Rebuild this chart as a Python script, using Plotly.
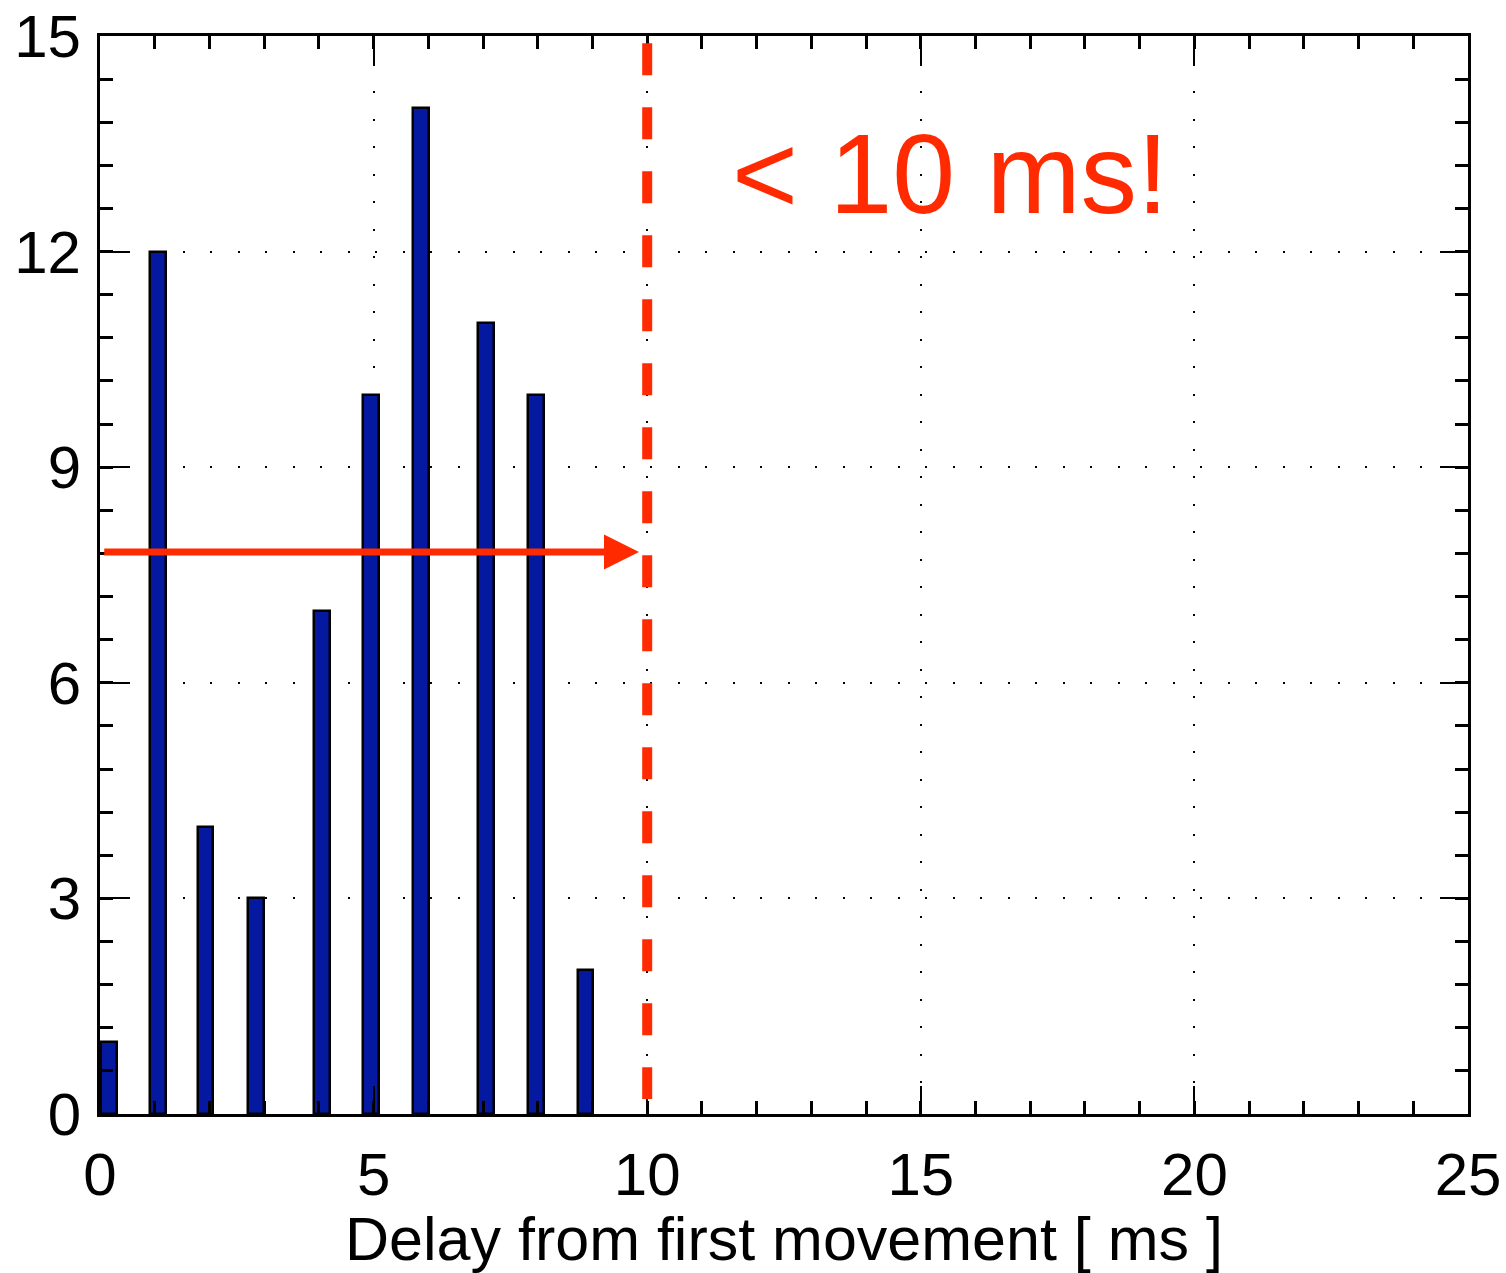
import plotly.graph_objects as go

# Histogram of delays (bin centres in ms) and counts per bin
delay_ms = [0.16, 1.06, 1.93, 2.85, 4.06, 4.95, 5.87, 7.05, 7.97, 8.87]
counts = [1, 12, 4, 3, 7, 10, 14, 11, 10, 2]

x_ticks = [0, 5, 10, 15, 20, 25]
y_ticks = [0, 3, 6, 9, 12, 15]

THRESHOLD_MS = 10
ARROW_LEVEL = 7.82
ARROW_START = 0.05
ARROW_TIP = 9.85
LABEL_X = 15.55
LABEL_Y = 13.08

RED = "#ff2a00"
BLUE = "#0519a0"
FONT = "Liberation Sans, Arial, Helvetica, sans-serif"

fig = go.Figure()

fig.add_trace(go.Bar(
    x=delay_ms,
    y=counts,
    width=0.285,
    marker=dict(color=BLUE, line=dict(color="black", width=2.5)),
    showlegend=False,
))

# Threshold line
fig.add_shape(
    type="line", xref="x", yref="y",
    x0=THRESHOLD_MS, x1=THRESHOLD_MS, y0=14.9, y1=0.21,
    line=dict(color=RED, width=10, dash="32px,32px"),
    layer="above",
)

# Arrow towards the threshold
fig.add_annotation(
    x=ARROW_TIP, y=ARROW_LEVEL, ax=ARROW_START, ay=ARROW_LEVEL,
    xref="x", yref="y", axref="x", ayref="y",
    text="", showarrow=True,
    arrowhead=2, arrowsize=1.0, arrowwidth=7, arrowcolor=RED,
)

fig.add_annotation(
    x=LABEL_X, y=LABEL_Y, xref="x", yref="y",
    text="&lt; 10 ms!", showarrow=False,
    font=dict(family=FONT, size=113, color=RED),
    xanchor="center", yanchor="middle",
)

axis_common = dict(
    showline=True, linewidth=3, linecolor="black", mirror="ticks",
    ticks="inside", ticklen=28, tickwidth=2, tickcolor="black",
    showgrid=True, gridcolor="black", gridwidth=2, griddash="2px,25.5px",
    zeroline=False, automargin=False,
    tickfont=dict(family=FONT, size=60, color="black"),
)

fig.update_xaxes(
    range=[0, 25], tickmode="array", tickvals=x_ticks,
    ticktext=[str(v) for v in x_ticks],
    minor=dict(dtick=1, ticks="inside", ticklen=13, tickwidth=3,
               tickcolor="black", showgrid=False),
    title=dict(text="Delay from first movement [ ms ]",
               font=dict(family=FONT, size=61, color="black"), standoff=8),
    ticklabelstandoff=6,
    **axis_common,
)
fig.update_yaxes(
    range=[0, 15], tickmode="array", tickvals=y_ticks,
    ticktext=[str(v) for v in y_ticks],
    minor=dict(dtick=0.6, tick0=0, ticks="inside", ticklen=13, tickwidth=3,
               tickcolor="black", showgrid=False),
    ticklabelstandoff=4,
    **axis_common,
)

fig.update_layout(
    width=1506, height=1273,
    margin=dict(l=100, r=38, t=36, b=159),
    plot_bgcolor="white", paper_bgcolor="white",
    bargap=0,
)

fig.write_html("out.html")
